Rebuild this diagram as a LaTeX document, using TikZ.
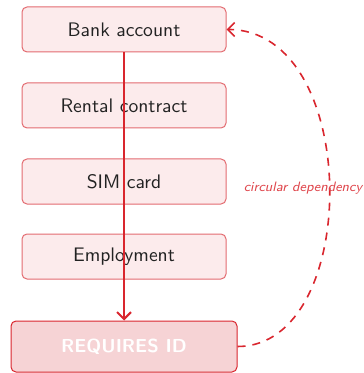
\documentclass[tikz,border=0pt]{standalone}
\usetikzlibrary{arrows.meta}
\renewcommand{\familydefault}{\sfdefault}
\definecolor{mainred}{HTML}{D9262E}
\definecolor{boxline}{HTML}{E36B70}
\definecolor{boxfill}{HTML}{FCEBEC}
\definecolor{reqfill}{HTML}{F6D3D5}
\definecolor{txt}{HTML}{222222}
\tikzset{
  itembox/.style={draw=boxline, fill=boxfill, line width=0.5pt, rounded corners=2.5pt,
    minimum width=102pt, minimum height=22.5pt, text=txt, font=\fontsize{9.8}{11}\selectfont, inner sep=0pt},
  reqbox/.style={draw=mainred, fill=reqfill, line width=0.5pt, rounded corners=2.5pt,
    minimum width=113pt, minimum height=25.5pt, text=white, font=\fontsize{9.4}{11}\selectfont\bfseries, inner sep=0pt},
  mainarrow/.style={draw=mainred, line width=1pt, -{Straight Barb[length=3.5pt,width=7pt]}},
  cycarrow/.style={draw=mainred, line width=0.8pt, dash pattern=on 4pt off 3.5pt, -{Straight Barb[length=3.5pt,width=7pt]}},
  cyclabel/.style={text=mainred!85!white, font=\fontsize{6.8}{8}\selectfont\itshape}
}
\begin{document}
\begin{tikzpicture}[x=0.5pt,y=-0.5pt]
\useasboundingbox (0,0) rectangle (363,373);
\node[itembox] (bank) at (124,29.5) {Bank account};
\node[itembox] (rent) at (124,105.5) {Rental contract};
\node[itembox] (sim) at (124,181.5) {SIM card};
\node[itembox] (emp) at (124,256.5) {Employment};
\node[reqbox] (req) at (124,346.5) {REQUIRES ID};
\draw[mainarrow] (bank.south) -- (req.north);
\draw[cycarrow] (req.east) .. controls (362,346.5) and (362,29.5) .. (bank.east);
\node[cyclabel] (lbl) at (303,188) {circular dependency};
\end{tikzpicture}
\end{document}
